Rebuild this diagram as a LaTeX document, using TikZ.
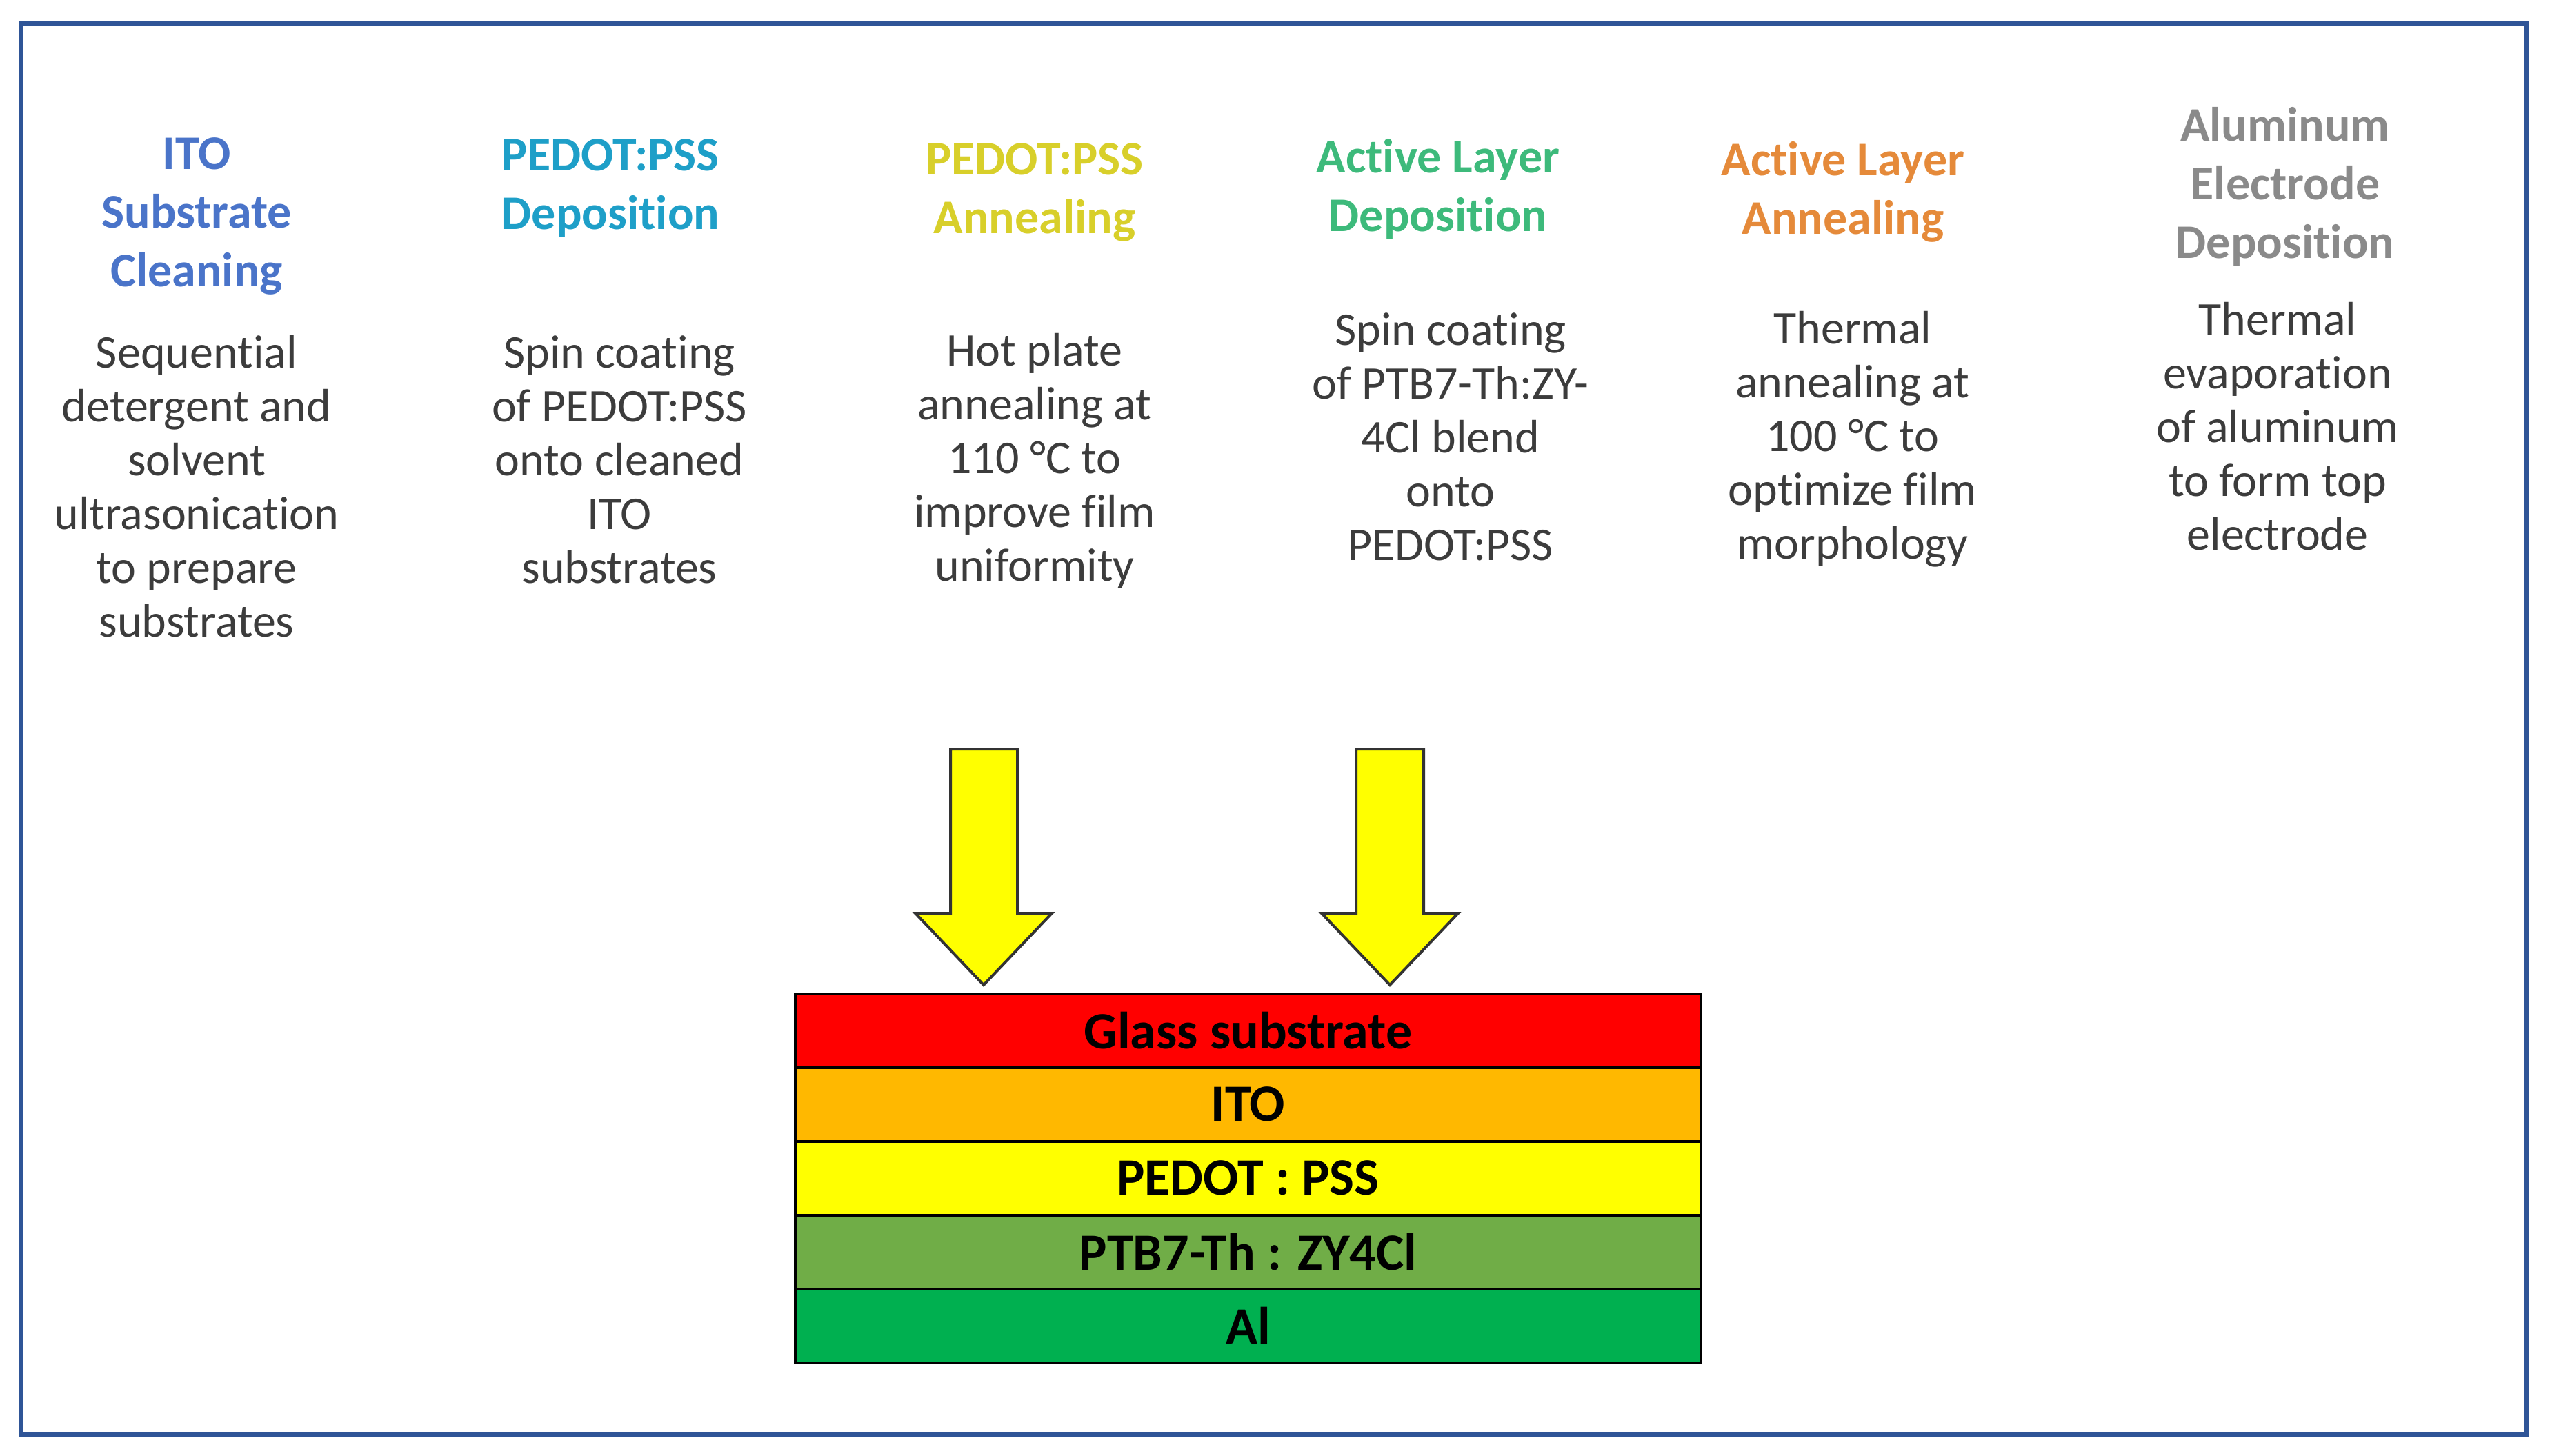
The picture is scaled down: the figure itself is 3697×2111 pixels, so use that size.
\documentclass[tikz,border=0pt]{standalone}
\usepackage{fontspec}
\setmainfont[Ligatures={NoCommon,NoContextual}]{Carlito}
\definecolor{framec}{HTML}{2F5597}
\definecolor{hA}{HTML}{4A74C9}
\definecolor{hB}{HTML}{1E9FC8}
\definecolor{hC}{HTML}{D8CF2A}
\definecolor{hD}{HTML}{3DBA7B}
\definecolor{hE}{HTML}{E58A3A}
\definecolor{hF}{HTML}{8A8A8A}
\definecolor{bodyc}{HTML}{3C3C3C}
\definecolor{lglass}{HTML}{FF0000}
\definecolor{lito}{HTML}{FFB800}
\definecolor{lpedot}{HTML}{FFFF00}
\definecolor{lptb}{HTML}{70AD47}
\definecolor{lal}{HTML}{00B050}
\definecolor{arrowfill}{HTML}{FFFF00}
\definecolor{arrowedge}{HTML}{333333}
\tikzset{
  heading/.style={align=center, inner sep=0pt, font=\fontsize{70}{85}\selectfont\bfseries},
  bodytext/.style={align=center, inner sep=0pt, text=bodyc, font=\fontsize{68}{78}\selectfont},
  layer/.style={draw=black, line width=4pt, minimum width=1313pt, minimum height=107pt, inner sep=0pt, outer sep=0pt, font=\fontsize{76}{80}\selectfont\bfseries, text=black},
  blockarrow/.style={fill=arrowfill, draw=arrowedge, line width=4pt, line join=miter}
}
\begin{document}
\begin{tikzpicture}[x=1pt, y=-1pt]
\useasboundingbox (0,0) rectangle (3697,2111);
\fill[white] (0,0) rectangle (3697,2111);
\draw[framec, line width=7pt] (30,34) rectangle (3663,2079);

% headings
\node[heading, text=hA] (h1) at (285,313) {ITO\\Substrate\\Cleaning};
\node[heading, text=hB] (h2) at (885,273) {PEDOT:PSS\\Deposition};
\node[heading, text=hC] (h3) at (1500,279) {PEDOT:PSS\\Annealing};
\node[heading, text=hD] (h4) at (2085,274) {Active Layer\\Deposition};
\node[heading, text=hE] (h5) at (2672,278) {Active Layer\\Annealing};
\node[heading, text=hF] (h6) at (3313,270) {Aluminum\\Electrode\\Deposition};

% descriptions
\node[bodytext] (b1) at (285,705) {Sequential\\detergent and\\solvent\\ultrasonication\\to prepare\\substrates};
\node[bodytext] (b2) at (898,666) {Spin coating\\of PEDOT:PSS\\onto cleaned\\ITO\\substrates};
\node[bodytext] (b3) at (1500,668) {Hot plate\\annealing at\\110 °C to\\improve film\\uniformity};
\node[bodytext] (b4) at (2103,633) {Spin coating\\of PTB7-Th:ZY-\\4Cl blend\\onto\\PEDOT:PSS};
\node[bodytext] (b5) at (2686,637) {Thermal\\annealing at\\100 °C to\\optimize film\\morphology};
\node[bodytext] (b6) at (3302,618) {Thermal\\evaporation\\of aluminum\\to form top\\electrode};

% layer stack
\node[layer, fill=lglass] (glass) at (1809.5,1494) {Glass substrate};
\node[layer, fill=lito, anchor=north] (ito) at (glass.south) {ITO};
\node[layer, fill=lpedot, anchor=north] (pedot) at (ito.south) {PEDOT : PSS};
\node[layer, fill=lptb, anchor=north] (ptb) at (pedot.south) {PTB7-Th : ZY4Cl};
\node[layer, fill=lal, anchor=north] (al) at (ptb.south) {Al};

% block arrows
\draw[blockarrow] (1378,1086) -- (1475,1086) -- (1475,1324) -- (1525,1324) -- (1426,1428) -- (1327,1324) -- (1378,1324) -- cycle;
\draw[blockarrow] (1966,1086) -- (2064,1086) -- (2064,1324) -- (2114,1324) -- (2015,1428) -- (1916,1324) -- (1966,1324) -- cycle;
\end{tikzpicture}
\end{document}
